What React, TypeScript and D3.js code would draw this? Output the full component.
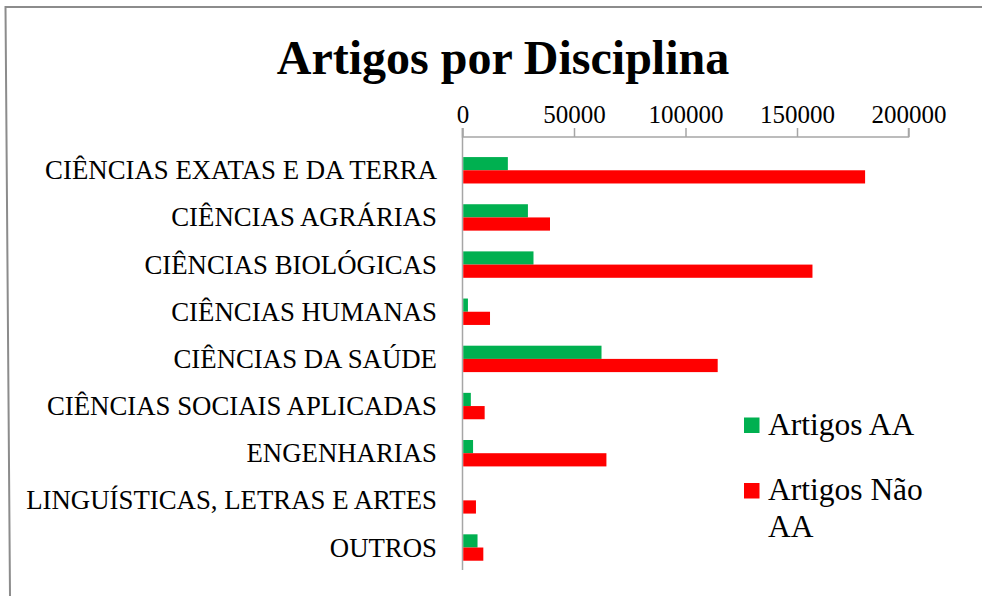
import React, { useEffect, useRef } from "react";
import * as d3 from "d3";

const categories = [
  "CIÊNCIAS EXATAS E DA TERRA",
  "CIÊNCIAS AGRÁRIAS",
  "CIÊNCIAS BIOLÓGICAS",
  "CIÊNCIAS HUMANAS",
  "CIÊNCIAS DA SAÚDE",
  "CIÊNCIAS SOCIAIS APLICADAS",
  "ENGENHARIAS",
  "LINGUÍSTICAS, LETRAS E ARTES",
  "OUTROS",
];
const artigosAA = [20000, 29000, 31500, 2100, 62000, 3400, 4400, 0, 6400];
const artigosNaoAA = [180200, 38900, 156600, 12000, 114100, 9600, 64200, 5700, 9000];
const seriesNames = ["Artigos AA", "Artigos Não AA"];
const seriesColors = ["#00B050", "#FF0000"];
const tickValues = [0, 50000, 100000, 150000, 200000];

const W = 982;
const H = 596;
const FONT = "'Liberation Serif', 'Times New Roman', serif";

const App = () => {
  const ref = useRef<SVGSVGElement | null>(null);

  useEffect(() => {
    const svg = d3.select(ref.current);
    svg.selectAll("*").remove();

    svg.append("rect").attr("width", W).attr("height", H).attr("fill", "#fff");

    // frame (top + left edges only, as in the screenshot)
    svg.append("path")
      .attr("d", "M982,7 L5.5,7 L10,596")
      .attr("fill", "none")
      .attr("stroke", "#8c8c8c")
      .attr("stroke-width", 2);

    svg.append("text")
      .attr("x", 503)
      .attr("y", 74)
      .attr("text-anchor", "middle")
      .attr("font-family", FONT)
      .attr("font-weight", "bold")
      .attr("font-size", 48)
      .text("Artigos por Disciplina");

    const x = d3.scaleLinear().domain([0, 200000]).range([462.5, 908.5]);
    const y = d3.scaleBand()
      .domain(categories)
      .range([146.7, 571.1])
      .paddingInner(0.44)
      .paddingOuter(0.22);
    const ySeries = d3.scaleBand().domain(seriesNames).range([0, y.bandwidth()]);

    // value axis on top
    const axis = svg.append("g")
      .attr("transform", "translate(0,137)")
      .call(d3.axisTop(x).tickValues(tickValues).tickSize(9).tickPadding(5).tickFormat(d3.format("d")));
    axis.select(".domain").attr("stroke", "#a6a6a6").attr("stroke-width", 1.5).attr("d", `M${x(0)},-9V0H${x(200000)}V-9`);
    axis.selectAll(".tick line").attr("stroke", "#a6a6a6").attr("stroke-width", 1.5);
    axis.selectAll(".tick text")
      .attr("font-family", FONT)
      .attr("font-size", 25)
      .attr("fill", "#000");

    // category axis line
    svg.append("line")
      .attr("x1", x(0)).attr("x2", x(0))
      .attr("y1", 128).attr("y2", 570)
      .attr("stroke", "#a6a6a6")
      .attr("stroke-width", 1.5);

    const series = [artigosAA, artigosNaoAA];
    series.forEach((vals, si) => {
      svg.append("g")
        .selectAll("rect")
        .data(categories)
        .enter()
        .append("rect")
        .attr("x", x(0) + 0.75)
        .attr("y", d => (y(d) as number) + (ySeries(seriesNames[si]) as number))
        .attr("width", (d, i) => Math.max(0, x(vals[i]) - x(0)))
        .attr("height", ySeries.bandwidth())
        .attr("fill", seriesColors[si]);
    });

    svg.append("g")
      .selectAll("text")
      .data(categories)
      .enter()
      .append("text")
      .attr("x", 437)
      .attr("y", d => (y(d) as number) + y.bandwidth() / 2 + 9)
      .attr("text-anchor", "end")
      .attr("font-family", FONT)
      .attr("font-size", 26.8)
      .text(d => d);

    // legend
    const legend = [
      { lines: ["Artigos AA"], top: 417.5 },
      { lines: ["Artigos Não", "AA"], top: 483 },
    ];
    legend.forEach((item, i) => {
      svg.append("rect")
        .attr("x", 744).attr("y", item.top)
        .attr("width", 15.5).attr("height", 15.5)
        .attr("fill", seriesColors[i]);
      const t = svg.append("text")
        .attr("x", 768)
        .attr("y", item.top + 17)
        .attr("font-family", FONT)
        .attr("font-size", 31.5);
      item.lines.forEach((ln, j) => {
        t.append("tspan").attr("x", 768).attr("dy", j === 0 ? 0 : 36.5).text(ln);
      });
    });
  }, []);

  return (
    <div style={{ position: "fixed", left: 0, top: 0 }}>
      <svg ref={ref} width={W} height={H} style={{ display: "block" }}></svg>
    </div>
  );
};

export default App;
